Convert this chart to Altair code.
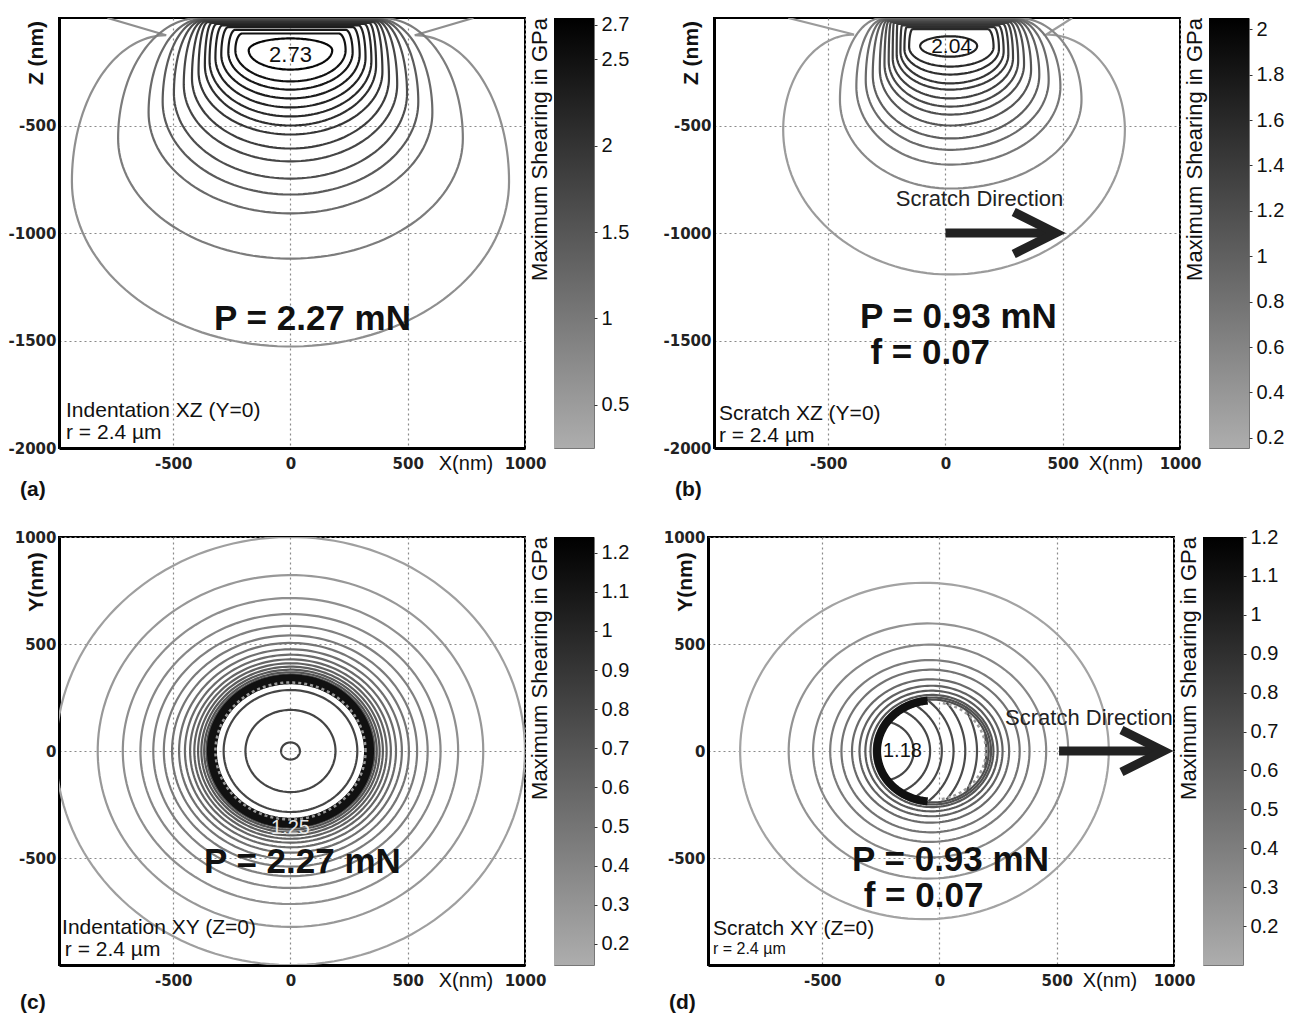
import altair as alt
import numpy as np
import pandas as pd

FONT = "Liberation Sans"
GRAY_LO = "#adadad"

# ---------------- panel (a): Indentation XZ ----------------
a_level = [0.28, 0.45, 0.65, 0.85, 1.05, 1.2, 1.35, 1.5, 1.65, 1.8, 1.95, 2.1, 2.25, 2.4, 2.6]
a_depth = [1528, 1119, 909, 821, 747, 667, 607, 542, 500, 458, 416, 374, 333, 295, 240]
a_width_l = [932, 735, 605, 545, 497, 455, 420, 392, 365, 345, 320, 295, 265, 235, 178]
a_width_r = [932, 735, 605, 545, 497, 455, 420, 392, 365, 345, 320, 295, 265, 235, 178]
a_widest_z = [-760, -560, -440, -390, -350, -310, -280, -250, -220, -200, -185, -170, -160, -150, -150]
a_tip_x = [530, 390, 375, 373, 370, 366, 360, 352, 335, 315, 290, 265, 235, 205, 0]
a_tip_z = [80, 0, 4, 6, 9, 12, 15, 19, 23, 28, 34, 42, 55, 72, 95]
a_wing_l = [780, 0, 0, 0, 0, 0, 0, 0, 0, 0, 0, 0, 0, 0, 0]
a_wing_r = [780, 0, 0, 0, 0, 0, 0, 0, 0, 0, 0, 0, 0, 0, 0]
a_closed = [0, 0, 1, 1, 1, 1, 1, 1, 1, 1, 1, 1, 1, 1, 1]
a_center = 0
a_cbar = [0.25, 2.74]
a_cbar_ticks = [0.5, 1, 1.5, 2, 2.5, 2.7]

# ---------------- panel (b): Scratch XZ ----------------
b_level = [0.2, 0.33, 0.5, 0.65, 0.8, 0.92, 1.04, 1.16, 1.28, 1.4, 1.52, 1.66, 1.8, 2.0]
b_depth = [1193, 793, 682, 613, 560, 500, 449, 412, 374, 333, 304, 263, 226, 180]
b_width_l = [712, 470, 400, 360, 330, 300, 280, 262, 245, 228, 212, 195, 175, 128]
b_width_r = [745, 560, 470, 420, 380, 345, 315, 290, 268, 248, 228, 208, 185, 115]
b_widest_z = [-520, -380, -320, -290, -265, -240, -215, -200, -185, -170, -155, -145, -135, -130]
b_tip_x = [410, 290, 280, 278, 275, 270, 262, 252, 240, 225, 205, 185, 160, 0]
b_tip_z = [77, 0, 4, 6, 9, 12, 15, 19, 23, 28, 34, 42, 52, 85]
b_wing_l = [690, 0, 0, 0, 0, 0, 0, 0, 0, 0, 0, 0, 0, 0]
b_wing_r = [520, 0, 0, 0, 0, 0, 0, 0, 0, 0, 0, 0, 0, 0]
b_closed = [0, 0, 1, 1, 1, 1, 1, 1, 1, 1, 1, 1, 1, 1]
b_center = 20
b_cbar = [0.155, 2.05]
b_cbar_ticks = [0.2, 0.4, 0.6, 0.8, 1, 1.2, 1.4, 1.6, 1.8, 2]

# ---------------- panel (c): Indentation XY ----------------
c_level = [0.17, 0.22, 0.28, 0.34, 0.4, 0.46, 0.52, 0.58, 0.64, 0.7, 0.76, 0.82, 0.88,
           0.94, 1.0, 1.05, 1.1, 1.15, 1.2, 1.22, 1.24]
c_radius = [1000, 822, 715, 640, 585, 540, 505, 475, 450, 428, 410, 394, 380,
            368, 358, 349, 342, 336, 285, 192, 40]
c_center_x = [0] * 21
c_center_y = [0] * 21
c_ring_radius = [335]
c_dash_radius = [320]
c_cbar = [0.146, 1.24]
c_cbar_ticks = [0.2, 0.3, 0.4, 0.5, 0.6, 0.7, 0.8, 0.9, 1, 1.1, 1.2]

# ---------------- panel (d): Scratch XY ----------------
d_level = [0.15, 0.25, 0.35, 0.45, 0.55, 0.65, 0.75, 0.85, 0.92, 1.0, 1.05]
d_radius = [786, 596, 497, 425, 380, 335, 305, 282, 262, 250, 240]
d_center_x = [-64, -47, -42, -41, -38, -38, -36, -34, -32, -30, -30]
d_center_y = [0] * 11
d_arc_level = [1.18, 1.16, 1.14, 1.12, 1.1, 1.08, 1.06]
d_arc_radius = [140, 210, 260, 310, 360, 410, 450]
d_arc_half_angle = [78, 66, 58, 49, 39, 27, 10]
d_arc_center = [-250, 0]
d_ring = [-30, 0, 236]
d_cbar = [0.1, 1.2]
d_cbar_ticks = [0.2, 0.3, 0.4, 0.5, 0.6, 0.7, 0.8, 0.9, 1, 1.1, 1.2]

CBAR_TITLE = "Maximum Shearing in GPa"


def xz_points(cx, D, WL, WR, zW, xt, zt, wl, wr, closed, n=40):
    xs, zs = [], []
    if wl:
        xs.append(cx - wl); zs.append(0.0)
    rz2 = -zW - zt
    th = np.linspace(np.pi / 2, np.pi, n)
    xs += list(cx - xt + (WL - xt) * np.cos(th)); zs += list(zW + rz2 * np.sin(th))
    rz1 = D + zW
    th = np.linspace(np.pi, 2 * np.pi, 2 * n)
    w = np.where(np.cos(th) < 0, WL, WR)
    xs += list(cx + w * np.cos(th)); zs += list(zW + rz1 * np.sin(th))
    th = np.linspace(0, np.pi / 2, n)
    xs += list(cx + xt + (WR - xt) * np.cos(th)); zs += list(zW + rz2 * np.sin(th))
    if wr:
        xs.append(cx + wr); zs.append(0.0)
    if closed:
        xs.append(cx - xt); zs.append(-zt)
    return xs, zs


def xz_frame(level, depth, wl_, wr_, wz, tx, tz, wingl, wingr, closed, cx):
    rows = []
    for i in range(len(level)):
        xs, zs = xz_points(cx, depth[i], wl_[i], wr_[i], wz[i], tx[i], tz[i],
                           wingl[i], wingr[i], closed[i])
        for k, (x, z) in enumerate(zip(xs, zs)):
            rows.append({"id": i, "seq": k, "x": x, "y": z, "level": level[i]})
    return pd.DataFrame(rows)


def arc_rows(start_id, cx, cy, r, a0, a1, level, n=160):
    th = np.radians(np.linspace(a0, a1, n))
    return [{"id": start_id, "seq": k, "x": cx + r * np.cos(t), "y": cy + r * np.sin(t),
             "level": level} for k, t in enumerate(th)]


def circle_frame(level, radius, cxs, cys):
    rows = []
    for i in range(len(level)):
        rows += arc_rows(i, cxs[i], cys[i], radius[i], 0, 360, level[i])
    return pd.DataFrame(rows)


def text_layer(df, size, weight="normal", color="#111", align="center", font=FONT):
    return alt.Chart(df).mark_text(fontSize=size, fontWeight=weight, color=color,
                                   align=align, baseline="middle", font=font).encode(
        x="x:Q", y="y:Q", text="t:N")


def panel(lines, lo, hi, ydom, yvals, ytitle, height, extra_layers, letter, xlab_x, letter_dy,
          ytitle_y):
    xs = alt.Scale(domain=[-987, 1000], nice=False, zero=False)
    ys = alt.Scale(domain=ydom, nice=False, zero=False)
    common = dict(title=None, grid=True, gridDash=[2, 3], gridColor="#8a8a8a", gridWidth=1.2,
                  labelFont="DejaVu Sans", labelFontWeight="bold", labelFontSize=15,
                  labelColor="#222", ticks=False, domainColor="black", domainWidth=3,
                  labelFlush=False, labelExpr="datum.value + ''")
    xaxis = alt.Axis(values=[-500, 0, 500, 1000], labelPadding=8, **common)
    yaxis = alt.Axis(values=yvals, labelPadding=3, **common)
    base = alt.Chart(lines).mark_line(clip=True, strokeWidth=2.2).encode(
        x=alt.X("x:Q", scale=xs, axis=xaxis),
        y=alt.Y("y:Q", scale=ys, axis=yaxis),
        color=alt.Color("level:Q",
                        scale=alt.Scale(type="pow", exponent=0.5, domain=[lo, hi],
                                        range=[GRAY_LO, "#000000"]),
                        legend=None),
        detail="id:N", order="seq:Q")
    lab = pd.DataFrame({"t": [letter]})
    letter_l = alt.Chart(lab).mark_text(fontSize=21, fontWeight="bold", font=FONT, align="left",
                                        baseline="middle", color="#111").encode(
        x=alt.value(-39), y=alt.value(height + letter_dy), text="t:N")
    xt = alt.Chart(pd.DataFrame({"t": ["X(nm)"]})).mark_text(
        fontSize=20, font=FONT, align="center", baseline="middle", color="#111").encode(
        x=alt.value(xlab_x), y=alt.value(height + 16), text="t:N")
    yt = alt.Chart(pd.DataFrame({"t": [ytitle]})).mark_text(
        fontSize=21, fontWeight="bold", font=FONT, align="center", baseline="middle",
        angle=270, color="#111").encode(x=alt.value(-22), y=alt.value(ytitle_y), text="t:N")
    # colour-bar title, drawn just left of the colour bar that follows this panel
    ct = alt.Chart(pd.DataFrame({"t": [CBAR_TITLE]})).mark_text(
        angle=270, align="right", baseline="middle", fontSize=22, font=FONT, color="#111").encode(
        x=alt.value(481), y=alt.value(0), text="t:N")
    return alt.layer(base, *extra_layers, letter_l, xt, yt, ct).properties(
        width=466, height=height, view=alt.ViewBackground(stroke="black", strokeWidth=2))


def colorbar(lims, ticks, height):
    df = pd.DataFrame({"lo": [lims[0]], "hi": [lims[1]]})
    grad = alt.Gradient(gradient="linear",
                        stops=[alt.GradientStop(color=GRAY_LO, offset=0),
                               alt.GradientStop(color="#000000", offset=1)],
                        x1=0, x2=0, y1=1, y2=0)
    rect = alt.Chart(df).mark_rect(color=grad).encode(
        x=alt.value(0), x2=alt.value(40),
        y=alt.Y("lo:Q", scale=alt.Scale(domain=lims, nice=False, zero=False),
                axis=alt.Axis(orient="right", values=ticks, title=None, grid=False, domain=False,
                              ticks=True, tickSize=3, tickColor="#333", labelFont=FONT,
                              labelFontSize=20, labelColor="#111", labelPadding=4,
                              labelFlush=False, labelExpr="datum.value + ''")),
        y2="hi:Q")
    return rect.properties(
        width=40, height=height, view=alt.ViewBackground(stroke="#777", strokeWidth=1))


def arrow_layers(x0, x1, xtip, y, tx, ty):
    shaft = alt.Chart(pd.DataFrame({"x": [x0], "x2": [x1], "y": [y]})).mark_rule(
        strokeWidth=9, color="#222").encode(x="x:Q", x2="x2:Q", y="y:Q")
    head = alt.Chart(pd.DataFrame({"x": [xtip], "y": [y]})).mark_point(
        shape="M -2 -1 L 0 0 L -2 1", filled=False, size=1764, strokeWidth=9, color="#222",
        opacity=1, strokeJoin="miter").encode(x="x:Q", y="y:Q")
    txt = text_layer(pd.DataFrame({"x": [tx], "y": [ty], "t": ["Scratch Direction"]}), 22,
                     color="#222")
    return [shaft, head, txt]


# ---------- build (a)
a_df = xz_frame(a_level, a_depth, a_width_l, a_width_r, a_widest_z, a_tip_x, a_tip_z,
                a_wing_l, a_wing_r, a_closed, a_center)
a_extra = [
    text_layer(pd.DataFrame({"x": [0], "y": [-170], "t": ["2.73"]}), 22),
    text_layer(pd.DataFrame({"x": [94], "y": [-1402], "t": ["P = 2.27 mN"]}), 35, "bold"),
    text_layer(pd.DataFrame({"x": [-957, -957], "y": [-1828, -1930],
                             "t": ["Indentation XZ (Y=0)", "r = 2.4 \u00b5m"]}), 21, align="left"),
]
pa = panel(a_df, a_cbar[0], a_cbar[1], [-2000, 0], [-500, -1000, -1500, -2000], "Z (nm)", 430,
           a_extra, "(a)", 407, 42, 35)

# ---------- build (b)
b_df = xz_frame(b_level, b_depth, b_width_l, b_width_r, b_widest_z, b_tip_x, b_tip_z,
                b_wing_l, b_wing_r, b_closed, b_center)
b_extra = [
    text_layer(pd.DataFrame({"x": [26], "y": [-133], "t": ["2.04"]}), 21),
    *arrow_layers(0, 440, 470, -1000, 145, -844),
    text_layer(pd.DataFrame({"x": [55, -65], "y": [-1391, -1560],
                             "t": ["P = 0.93 mN", "f = 0.07"]}), 35, "bold"),
    text_layer(pd.DataFrame({"x": [-966, -966], "y": [-1842, -1944],
                             "t": ["Scratch XZ (Y=0)", "r = 2.4 \u00b5m"]}), 21, align="left"),
]
pb = panel(b_df, b_cbar[0], b_cbar[1], [-2000, 0], [-500, -1000, -1500, -2000], "Z (nm)", 430,
           b_extra, "(b)", 402, 42, 35)

# ---------- build (c)
c_df = circle_frame(c_level, c_radius, c_center_x, c_center_y)
c_ring = pd.DataFrame(arc_rows(0, 0, 0, c_ring_radius[0], 0, 360, 1.2))
c_dash = pd.DataFrame(arc_rows(0, 0, 0, c_dash_radius[0], 0, 360, 1.2))
c_extra = [
    alt.Chart(c_ring).mark_line(strokeWidth=10, color="#111").encode(
        x="x:Q", y="y:Q", order="seq:Q"),
    alt.Chart(c_dash).mark_line(strokeWidth=2.5, color="#9a9a9a", strokeDash=[3, 3]).encode(
        x="x:Q", y="y:Q", order="seq:Q"),
    text_layer(pd.DataFrame({"x": [0], "y": [-360], "t": ["1.25"]}), 20, color="#e6e6e6"),
    text_layer(pd.DataFrame({"x": [51], "y": [-519], "t": ["P = 2.27 mN"]}), 35, "bold"),
    text_layer(pd.DataFrame({"x": [-974, -962], "y": [-827, -930],
                             "t": ["Indentation XY (Z=0)", "r = 2.4 \u00b5m"]}), 21, align="left"),
]
pc = panel(c_df, c_cbar[0], c_cbar[1], [-1000, 1000], [1000, 500, 0, -500], "Y(nm)", 428,
           c_extra, "(c)", 407, 38, 45)

# ---------- build (d)
d_rows = circle_frame(d_level, d_radius, d_center_x, d_center_y).to_dict("records")
for j in range(len(d_arc_level)):
    d_rows += arc_rows(100 + j, d_arc_center[0], d_arc_center[1], d_arc_radius[j],
                       -d_arc_half_angle[j], d_arc_half_angle[j], d_arc_level[j])
d_df = pd.DataFrame(d_rows)
d_ring_df = pd.DataFrame(arc_rows(0, d_ring[0], d_ring[1], d_ring[2], 95, 265, 1.2))
d_dash_df = pd.DataFrame(arc_rows(0, d_ring[0], d_ring[1], d_ring[2] - 8, -80, 80, 1.2))
d_extra = [
    alt.Chart(d_ring_df).mark_line(strokeWidth=8, color="#111").encode(
        x="x:Q", y="y:Q", order="seq:Q"),
    alt.Chart(d_dash_df).mark_line(strokeWidth=2.5, color="#9a9a9a", strokeDash=[3, 3]).encode(
        x="x:Q", y="y:Q", order="seq:Q"),
    text_layer(pd.DataFrame({"x": [-158], "y": [0], "t": ["1.18"]}), 20),
    *arrow_layers(510, 935, 955, 0, 637, 154),
    text_layer(pd.DataFrame({"x": [47, -68], "y": [-509, -678],
                             "t": ["P = 0.93 mN", "f = 0.07"]}), 35, "bold"),
    text_layer(pd.DataFrame({"x": [-966], "y": [-834], "t": ["Scratch XY (Z=0)"]}), 21,
               align="left"),
    text_layer(pd.DataFrame({"x": [-966], "y": [-925], "t": ["r = 2.4 \u00b5m"]}), 16,
               align="left"),
]
pd_ = panel(d_df, d_cbar[0], d_cbar[1], [-1000, 1000], [1000, 500, 0, -500], "Y(nm)", 428,
            d_extra, "(d)", 402, 38, 45)

row1 = alt.hconcat(alt.hconcat(pa, colorbar(a_cbar, a_cbar_ticks, 430), spacing=0),
                   alt.hconcat(pb, colorbar(b_cbar, b_cbar_ticks, 430), spacing=0), spacing=32)
row2 = alt.hconcat(alt.hconcat(pc, colorbar(c_cbar, c_cbar_ticks, 428), spacing=0),
                   alt.hconcat(pd_, colorbar(d_cbar, d_cbar_ticks, 428), spacing=0), spacing=32)

chart = alt.vconcat(row1, row2, spacing=25).properties(
    padding={"left": 7, "top": 14, "right": 2, "bottom": 2},
    background="white",
).configure_view(stroke=None)

chart.save("out.html", embed_options={"renderer": "svg", "actions": False})
